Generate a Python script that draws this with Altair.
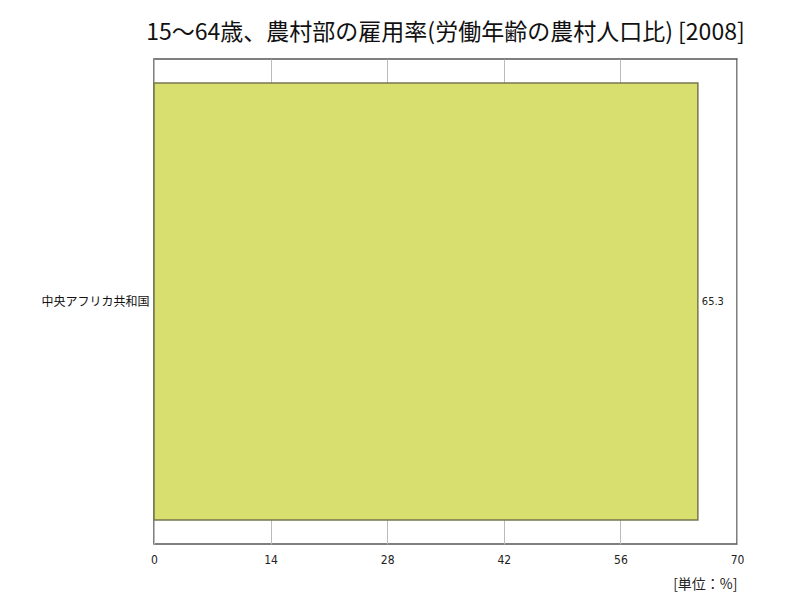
import altair as alt
import pandas as pd

categories = ["中央アフリカ共和国"]
values = [65.3]
x_ticks = [0, 14, 28, 42, 56, 70]

df = pd.DataFrame({"country": categories, "value": values})
df["label"] = df["value"].map(lambda v: f"{v:.1f}")

FONT = "Noto Sans CJK JP"

base = alt.Chart(df)

bars = base.mark_bar(color="#d8df6f", stroke="#77774f", strokeWidth=1.5).encode(
    x=alt.X(
        "value:Q",
        scale=alt.Scale(domain=[0, 70], nice=False, zero=True),
        axis=alt.Axis(
            values=x_ticks,
            format="d",
            ticks=False,
            domain=False,
            grid=True,
            gridColor="#bbbbbb",
            gridWidth=1,
            labelFlush=False,
            labelFont="DejaVu Sans Condensed",
            labelFontSize=12,
            labelColor="#222222",
            labelPadding=10,
            title="[単位：%]",
            titleFont=FONT,
            titleFontSize=14,
            titleFontWeight="normal",
            titleColor="#222222",
            titleAnchor="end",
            titleAlign="right",
            titlePadding=12,
        ),
    ),
    y=alt.Y(
        "country:N",
        sort=categories,
        scale=alt.Scale(paddingInner=0, paddingOuter=0.055),
        axis=alt.Axis(
            ticks=False,
            domain=False,
            grid=False,
            labelFont=FONT,
            labelFontSize=12,
            labelColor="#111111",
            labelPadding=5,
            title=None,
        ),
    ),
)

labels = base.mark_text(
    align="left", baseline="middle", dx=4, font="DejaVu Sans Condensed", fontSize=11, color="#222222"
).encode(
    x="value:Q",
    y=alt.Y("country:N", sort=categories),
    text="label:N",
)

chart = (
    alt.layer(bars, labels)
    .properties(
        width=583,
        height=485,
        title=alt.TitleParams(
            "15～64歳、農村部の雇用率(労働年齢の農村人口比) [2008]",
            font=FONT,
            fontSize=23,
            fontWeight="normal",
            color="#111111",
            anchor="middle",
            offset=14,
        ),
        autosize=alt.AutoSizeParams(type="none"),
        padding={"left": 146, "top": 51, "right": 55, "bottom": 48},
    )
    .configure_view(stroke="#555555", strokeWidth=1.5)
)

chart.save("out.html", embed_options={"renderer": "svg", "actions": False})
